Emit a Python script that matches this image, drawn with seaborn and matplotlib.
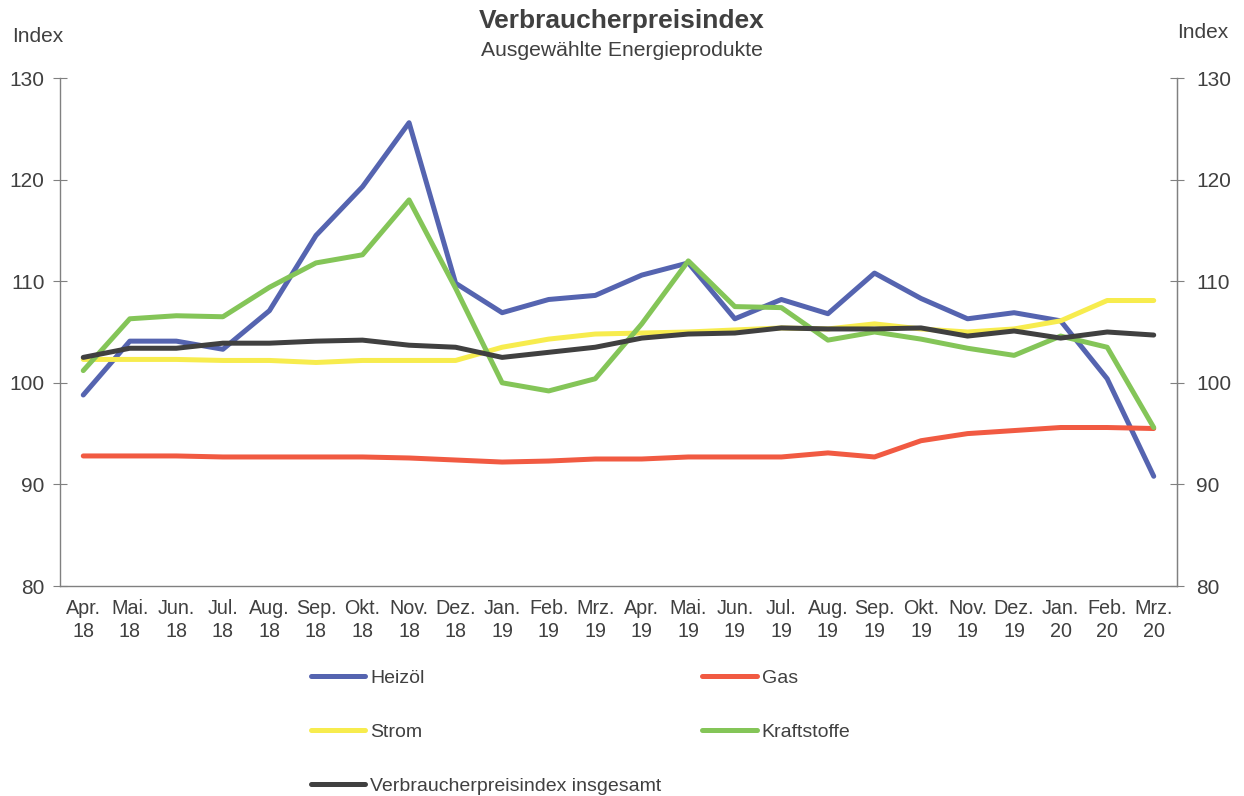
import numpy as np
import pandas as pd
import matplotlib
matplotlib.use("Agg")
import matplotlib.pyplot as plt
import seaborn as sns

# monats-achse
months = ["Apr.\n18", "Mai.\n18", "Jun.\n18", "Jul.\n18", "Aug.\n18", "Sep.\n18",
          "Okt.\n18", "Nov.\n18", "Dez.\n18", "Jan.\n19", "Feb.\n19", "Mrz.\n19",
          "Apr.\n19", "Mai.\n19", "Jun.\n19", "Jul.\n19", "Aug.\n19", "Sep.\n19",
          "Okt.\n19", "Nov.\n19", "Dez.\n19", "Jan.\n20", "Feb.\n20", "Mrz.\n20"]

heizoel = [98.8, 104.1, 104.1, 103.3, 107.1, 114.5, 119.3, 125.6, 109.8, 106.9, 108.2, 108.6,
           110.6, 111.8, 106.3, 108.2, 106.8, 110.8, 108.3, 106.3, 106.9, 106.1, 100.4, 90.8]
gas = [92.8, 92.8, 92.8, 92.7, 92.7, 92.7, 92.7, 92.6, 92.4, 92.2, 92.3, 92.5,
       92.5, 92.7, 92.7, 92.7, 93.1, 92.7, 94.3, 95.0, 95.3, 95.6, 95.6, 95.5]
strom = [102.3, 102.3, 102.3, 102.2, 102.2, 102.0, 102.2, 102.2, 102.2, 103.5, 104.3, 104.8,
         104.9, 105.0, 105.2, 105.4, 105.3, 105.8, 105.3, 105.0, 105.3, 106.1, 108.1, 108.1]
kraftstoffe = [101.2, 106.3, 106.6, 106.5, 109.4, 111.8, 112.6, 118.0, 109.3, 100.0, 99.2, 100.4,
               105.8, 112.0, 107.5, 107.4, 104.2, 105.0, 104.3, 103.4, 102.7, 104.6, 103.5, 95.6]
vpi = [102.5, 103.4, 103.4, 103.9, 103.9, 104.1, 104.2, 103.7, 103.5, 102.5, 103.0, 103.5,
       104.4, 104.8, 104.9, 105.4, 105.3, 105.3, 105.4, 104.6, 105.1, 104.4, 105.0, 104.7]

series_names = ["Heizöl", "Gas", "Strom", "Kraftstoffe", "Verbraucherpreisindex insgesamt"]
series_values = [heizoel, gas, strom, kraftstoffe, vpi]
colors = ["#5564B0", "#F15A42", "#F7EC4E", "#84C558", "#404040"]

y_ticks = [80, 90, 100, 110, 120, 130]

rows = []
for name, vals in zip(series_names, series_values):
    for i, v in enumerate(vals):
        rows.append({"pos": i, "wert": v, "serie": name})
df = pd.DataFrame(rows)

sns.set_style("white")
plt.rcParams["font.family"] = ["Liberation Sans", "DejaVu Sans"]
txt = "#404040"
grau = "#808080"

fig = plt.figure(figsize=(12.44, 7.96), dpi=100)
ax = fig.add_axes([60 / 1244, 1 - 586 / 796, (1177 - 60) / 1244, (586 - 78) / 796])

sns.lineplot(data=df, x="pos", y="wert", hue="serie", hue_order=series_names,
             palette=dict(zip(series_names, colors)), linewidth=3.6, ax=ax,
             solid_capstyle="round", legend=False)

ax.set_xlim(-0.5, len(months) - 0.5)
ax.set_ylim(y_ticks[0], y_ticks[-1])
ax.set_xticks(range(len(months)))
ax.set_xticklabels(months, fontsize=14.2, color=txt, linespacing=1.3)
ax.set_xticks(np.arange(-0.5, len(months)), minor=True)
ax.tick_params(axis="x", which="major", length=0, pad=9)
ax.tick_params(axis="x", which="minor", length=6, color=grau, direction="out")
ax.set_yticks(y_ticks)
ax.tick_params(axis="y", labelsize=15, labelcolor=txt, direction="inout", length=10,
               color=grau, pad=6)
ax.set_xlabel("")
ax.set_ylabel("")
for s in ["left", "bottom", "right"]:
    ax.spines[s].set_color(grau)
    ax.spines[s].set_linewidth(1.0)
ax.spines["top"].set_visible(False)

ax2 = ax.twinx()
ax2.set_ylim(ax.get_ylim())
ax2.set_yticks(y_ticks)
ax2.tick_params(axis="y", labelsize=15, labelcolor=txt, direction="inout", length=10,
                color=grau, pad=9)
for s in ["left", "bottom", "top"]:
    ax2.spines[s].set_visible(False)
ax2.spines["right"].set_color(grau)

fig.text(0.5, 1 - 21 / 796, "Verbraucherpreisindex", ha="center", va="center",
         fontsize=19, fontweight="bold", color=txt)
fig.text(0.5, 1 - 50 / 796, "Ausgewählte Energieprodukte", ha="center", va="center",
         fontsize=15.2, color=txt)
fig.text(12 / 1244, 1 - 36 / 796, "Index", ha="left", va="center", fontsize=15, color=txt)
fig.text(1228 / 1244, 1 - 33 / 796, "Index", ha="right", va="center", fontsize=15, color=txt)

# legende: spaltenweise befuellt -> reihenfolge anpassen
handles = [plt.Line2D([], [], color=c, linewidth=3.6, solid_capstyle="round") for c in colors]
order = [0, 2, 4, 1, 3]
fig.legend([handles[i] for i in order], [series_names[i] for i in order],
           loc="upper left", bbox_to_anchor=(311 / 1244, 1 - 669 / 796), ncol=2,
           frameon=False, fontsize=14, handlelength=2.8, handletextpad=0.25,
           labelspacing=1.87, columnspacing=2.1, borderpad=0, borderaxespad=0,
           labelcolor=txt)

fig.savefig("out.png", dpi=100)
